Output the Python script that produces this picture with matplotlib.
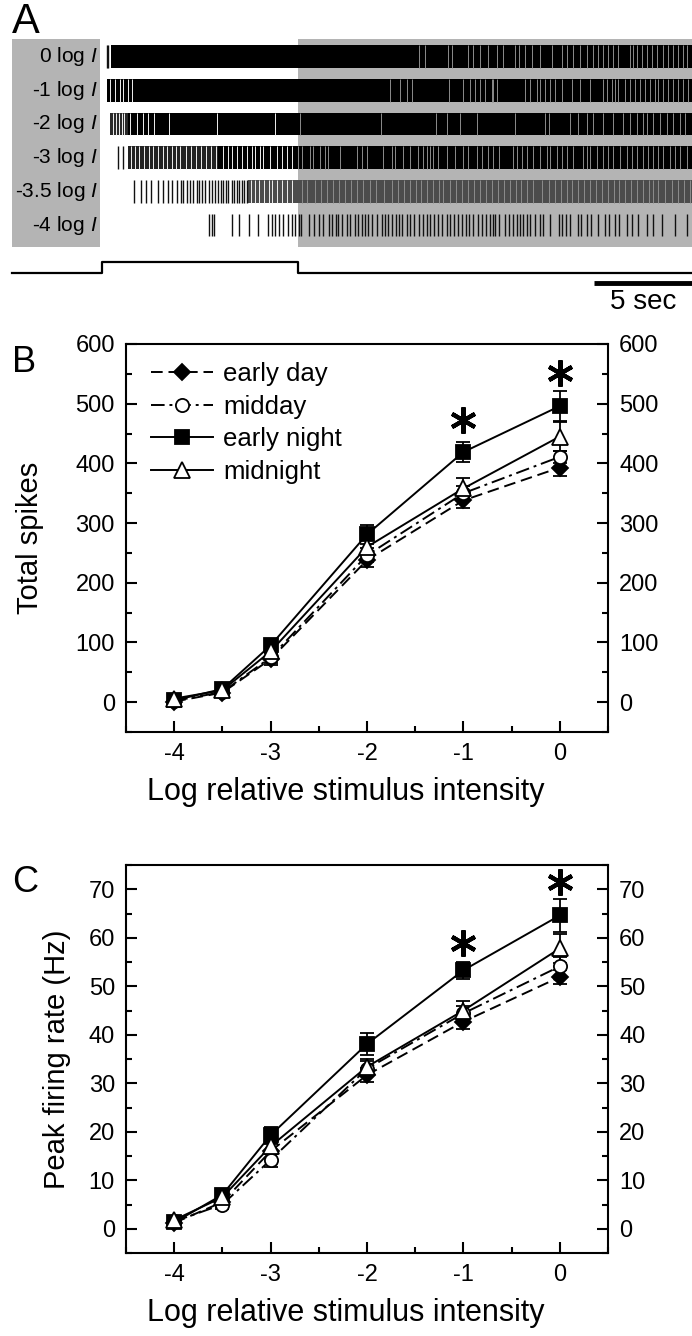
import matplotlib
matplotlib.use("Agg")
import matplotlib.pyplot as plt
from matplotlib.patches import Rectangle
from matplotlib.ticker import MultipleLocator

plt.rcParams['font.family'] = ['Liberation Sans', 'DejaVu Sans']
plt.rcParams['mathtext.fontset'] = 'custom'
plt.rcParams['mathtext.it'] = 'Liberation Sans:italic'
plt.rcParams['mathtext.rm'] = 'Liberation Sans'
plt.rcParams['axes.unicode_minus'] = False

# ---------------- Panel A data (seconds) ----------------
row_labels = ['0 log $I$', '-1 log $I$', '-2 log $I$', '-3 log $I$', '-3.5 log $I$', '-4 log $I$']
stim_on, stim_off = 0.0, 10.0
t_end = 30.1
scale_bar_sec = 5

# solid (dense black) spans per row
row0_solid = [(0.45, t_end)]
row1_solid = [(0.24, t_end)]
row2_solid = [(1.34, t_end)]
row3_solid = [(5.94, t_end)]
row4_solid = []
row5_solid = []
# dense but resolvable (grey) spans
row0_grey = []
row1_grey = []
row2_grey = [(0.41, 1.34)]
row3_grey = [(1.34, 5.94)]
row4_grey = [(7.45, t_end)]
row5_grey = []
# isolated spikes
row0_spikes = [0.24, 0.32]
row1_spikes = []
row2_spikes = []
row3_spikes = [0.83, 1.09]
row4_spikes = [1.65, 1.99, 2.23, 2.5, 2.87, 3.13, 3.35, 3.55, 3.81, 4.03, 4.15, 4.32, 4.49,
               4.66, 4.83, 4.97, 5.12, 5.26, 5.48, 5.63, 5.77, 5.9, 6.07, 6.19, 6.33, 6.45,
               6.62, 6.75, 6.87, 6.99, 7.13, 7.26, 7.38]
row5_spikes = [5.47, 5.6, 5.71, 6.62, 7.0, 7.52, 7.97, 8.45, 8.66, 8.83, 9.05, 9.26, 9.48,
               9.68, 9.85, 10.05, 10.16, 10.56, 10.84, 11.07, 11.3, 11.58, 11.75, 11.92,
               12.06, 12.26, 12.49, 12.66, 12.91, 13.08, 13.25, 13.42, 13.59, 13.76, 14.02,
               14.27, 14.44, 14.61, 14.82, 14.99, 15.16, 15.33, 15.55, 15.72, 15.94, 16.18,
               16.4, 16.57, 16.74, 16.96, 17.16, 17.37, 17.59, 17.76, 17.98, 18.18, 18.39,
               18.56, 18.73, 18.95, 19.17, 19.37, 19.58, 19.8, 19.97, 20.06, 20.28, 20.57,
               20.74, 20.99, 21.16, 21.33, 21.5, 21.67, 21.84, 22.1, 22.35, 22.52, 22.86,
               23.29, 23.46, 23.68, 23.88, 24.26, 24.43, 24.73, 24.94, 25.28, 25.67, 25.87,
               26.18, 26.38, 26.77, 27.03, 27.37, 27.79, 28.13, 28.56, 29.24, 29.83]
# silent gaps inside dense firing
row0_gaps = [16.18, 16.48, 17.67, 17.84, 18.69, 18.95, 19.29, 19.71, 20.17, 20.48, 21.08,
             21.25, 21.59, 21.93, 22.35, 22.95, 23.46, 23.71, 24.05, 24.39, 24.73, 25.07,
             25.33, 25.58, 25.84, 26.09, 26.35, 26.94, 27.11, 27.28, 27.54, 27.79, 28.05,
             28.3, 28.64, 28.9, 29.15, 29.41, 29.66, 29.83]
row1_gaps = [0.41, 0.66, 0.92, 1.09, 1.34, 1.55, 14.7, 15.21, 15.55, 15.8, 17.71, 18.44,
             18.78, 19.03, 19.29, 19.54, 19.88, 19.97, 20.14, 21.59, 21.84, 22.18, 22.35,
             22.61, 22.86, 23.12, 23.46, 23.97, 24.39, 24.9, 25.58, 25.75, 26.01, 26.18,
             26.35, 26.69, 26.94, 27.2, 27.45, 27.71, 27.96, 28.22, 28.39, 28.64, 28.9,
             29.15, 29.41, 29.66, 29.92]
row2_gaps = [0.55, 0.7, 0.85, 1.0, 1.15, 1.43, 1.77, 2.11, 2.36, 2.67, 3.42, 5.85, 8.83,
             10.11, 14.24, 17.03, 17.59, 18.27, 19.12, 21.08, 22.61, 22.78, 23.88, 24.31,
             24.73, 25.07, 25.58, 26.09, 26.6, 26.94, 27.28, 27.62, 27.79, 28.13, 28.47,
             28.81, 29.15, 29.49, 29.75]
row3_gaps = [1.5, 1.7, 1.9, 2.15, 2.4, 2.6, 2.85, 3.1, 3.3, 3.55, 3.8, 4.0, 4.3, 4.55, 4.8,
             5.05, 5.3, 5.55, 5.8,
             6.19, 6.41, 6.62, 6.87, 7.13, 7.38, 7.64, 7.81, 8.06, 8.23, 8.57, 8.91, 9.17,
             9.42, 9.68, 10.02, 10.19, 10.62, 10.79, 11.13, 11.38, 11.55, 12.15, 13.0, 13.25,
             13.51, 14.36, 14.78, 14.95, 15.38, 15.72, 16.14, 16.4, 16.57, 16.74, 16.91,
             17.16, 17.59, 18.01, 18.44, 18.69, 19.12, 19.37, 19.71, 19.97, 20.23, 20.99,
             21.16, 21.42, 21.67, 22.01, 22.35, 22.69, 22.86, 23.2, 23.46, 23.71, 24.05,
             24.56, 24.73, 24.9, 25.24, 25.58, 25.84, 26.09, 26.43, 26.77, 27.03, 27.28,
             27.62, 27.88, 28.13, 28.39, 28.64, 28.98, 29.24, 29.49, 29.83]
row4_gaps = [7.6, 7.8, 8.0, 8.25, 8.5, 8.7, 8.95, 9.2, 9.45, 9.7, 10.2, 10.45, 10.87, 11.2,
             11.5, 11.8, 12.1, 12.4, 12.7, 13.0, 13.3, 13.68, 14.0, 14.4, 14.78, 15.1, 15.4,
             15.7, 16.0, 16.3, 16.6, 16.9, 17.2, 17.42, 17.76, 18.05, 18.35, 18.69, 19.0,
             19.3, 19.6, 19.9, 20.2, 20.5, 20.8, 21.1, 21.4, 21.7, 22.0, 22.44, 22.8, 23.1,
             23.4, 23.7, 24.0, 24.3, 24.6, 24.9, 25.2, 25.5, 25.8, 26.1, 26.4, 26.7, 27.0,
             27.3, 27.6, 27.9, 28.1, 28.39, 28.7, 29.07, 29.4, 29.7, 30.0]
row5_gaps = []

rows_solid = [row0_solid, row1_solid, row2_solid, row3_solid, row4_solid, row5_solid]
rows_grey = [row0_grey, row1_grey, row2_grey, row3_grey, row4_grey, row5_grey]
rows_spikes = [row0_spikes, row1_spikes, row2_spikes, row3_spikes, row4_spikes, row5_spikes]
rows_gaps = [row0_gaps, row1_gaps, row2_gaps, row3_gaps, row4_gaps, row5_gaps]

# ---------------- Panels B and C data ----------------
intensity = [-4, -3.5, -3, -2, -1, 0]
series_names = ['early day', 'midday', 'early night', 'midnight']

spikes_early_day = [1, 16, 72, 238, 338, 393]
spikes_midday = [2, 17, 75, 246, 350, 411]
spikes_early_night = [3, 22, 95, 281, 419, 496]
spikes_midnight = [6, 20, 85, 260, 358, 445]
spikes_err_early_day = [4, 6, 10, 12, 12, 14]
spikes_err_midday = [4, 6, 10, 12, 12, 10]
spikes_err_early_night = [4, 6, 10, 16, 17, 25]
spikes_err_midnight = [4, 6, 10, 12, 17, 25]

peak_early_day = [1.2, 5.5, 16.0, 31.7, 42.7, 51.9]
peak_midday = [1.5, 5.0, 14.2, 33.0, 44.4, 54.1]
peak_early_night = [1.3, 7.0, 19.3, 38.1, 53.3, 64.6]
peak_midnight = [1.8, 6.5, 17.0, 33.4, 45.0, 57.8]
peak_err_early_day = [0.8, 1.0, 1.5, 1.5, 1.5, 1.5]
peak_err_midday = [0.8, 1.0, 1.5, 1.5, 1.5, 2.0]
peak_err_early_night = [0.8, 1.0, 1.7, 2.3, 1.8, 3.4]
peak_err_midnight = [0.8, 1.0, 1.5, 1.5, 2.0, 3.0]

sig_x = [-1, 0]
sig_spikes_y = [472, 551]
sig_peak_y = [59, 71.5]

# ---------------- Figure ----------------
W, H = 692, 1336
fig = plt.figure(figsize=(W / 100, H / 100), dpi=100)
GREY = '#b4b4b4'

# Panel A
axA = fig.add_axes([0, 1 - 320 / H, 1, 320 / H])
axA.set_xlim(-5.2, t_end)
axA.set_ylim(7.82, -1.68)
axA.axis('off')
box_top, box_h = -0.51, 6.17
axA.add_patch(Rectangle((-4.59, box_top), 4.49, box_h, color=GREY, lw=0, zorder=0))
axA.add_patch(Rectangle((stim_off, box_top), t_end - stim_off + 1, box_h, color=GREY, lw=0, zorder=0))
rh = 0.68
grey_cols = ['#3c3c3c', '#3c3c3c', '#2a2a2a', '#222222', '#4c4c4c', '#4c4c4c']
for i in range(6):
    y0 = i - rh / 2
    if rows_grey[i]:
        axA.broken_barh([(a, b - a) for a, b in rows_grey[i]], (y0, rh), color=grey_cols[i], lw=0, zorder=2)
    if rows_solid[i]:
        axA.broken_barh([(a, b - a) for a, b in rows_solid[i]], (y0, rh), color='black', lw=0, zorder=2)
    if rows_spikes[i]:
        axA.vlines(rows_spikes[i], y0, y0 + rh, color='#111111', lw=1.0, zorder=3)
    if rows_gaps[i]:
        cols = ['#f0f0f0' if t < stim_off else '#8c8c8c' for t in rows_gaps[i]]
        axA.vlines(rows_gaps[i], y0, y0 + rh, colors=cols, lw=0.7, zorder=4)
    axA.text(-0.2, i, row_labels[i], ha='right', va='center', fontsize=15, zorder=5)

base, high = 6.42, 6.09
axA.plot([-4.59, stim_on, stim_on, stim_off, stim_off, t_end],
         [base, base, high, high, base, base], color='black', lw=1.6)
axA.plot([t_end - scale_bar_sec, t_end], [6.71, 6.71], color='black', lw=3.5, solid_capstyle='butt')
axA.text(t_end - scale_bar_sec / 2, 7.28, '%d sec' % scale_bar_sec, ha='center', va='center', fontsize=20)
fig.text(12 / W, 1 - 22 / H, 'A', fontsize=30, ha='left', va='center')

styles = {
    'early day': dict(ls=(0, (6, 3)), marker='D', mfc='black', ms=8),
    'midday': dict(ls=(0, (7, 2.5, 1.5, 2.5)), marker='o', mfc='white', ms=9.5),
    'early night': dict(ls='-', marker='s', mfc='black', ms=9.5),
    'midnight': dict(ls='-', marker='^', mfc='white', ms=11.5),
}


def panel(ax, ys, errs, sig_y, ylim, major, minor, ylabel, label_x):
    handles = []
    for name, y, e in zip(series_names, ys, errs):
        st = styles[name]
        ax.errorbar(intensity, y, yerr=e, fmt='none', ecolor='black', elinewidth=1.3,
                    capsize=5, capthick=1.3, zorder=3)
        h, = ax.plot(intensity, y, color='black', lw=1.4, ls=st['ls'], marker=st['marker'],
                     mfc=st['mfc'], mec='black', mew=1.3, ms=st['ms'], zorder=4, label=name)
        handles.append(h)
    ax.plot(sig_x, sig_y, ls='none', marker=(6, 2, 0), ms=19, mew=3, color='black')
    ax.set_xlim(-4.5, 0.5)
    ax.set_ylim(*ylim)
    ax.xaxis.set_major_locator(MultipleLocator(1))
    ax.xaxis.set_minor_locator(MultipleLocator(0.5))
    ax.yaxis.set_major_locator(MultipleLocator(major))
    ax.yaxis.set_minor_locator(MultipleLocator(minor))
    ax.tick_params(which='both', direction='in', left=True, right=True, top=False,
                   labelleft=True, labelright=True, labelsize=17, width=1.5)
    ax.tick_params(which='major', length=8, pad=8)
    ax.tick_params(which='minor', length=4)
    for s in ax.spines.values():
        s.set_linewidth(1.5)
    ax.set_xlabel('Log relative stimulus intensity', fontsize=22, labelpad=12)
    ax.xaxis.set_label_coords(0.455, -0.115)
    ax.set_ylabel(ylabel, fontsize=21)
    ax.yaxis.set_label_coords(label_x, 0.5)
    return handles


axB = fig.add_axes([126 / W, 1 - 732 / H, 482 / W, 388 / H])
hs = panel(axB, [spikes_early_day, spikes_midday, spikes_early_night, spikes_midnight],
           [spikes_err_early_day, spikes_err_midday, spikes_err_early_night, spikes_err_midnight],
           sig_spikes_y, (-50, 600), 100, 50, 'Total spikes', -0.17)
axB.legend(handles=hs, loc='upper left', frameon=False, fontsize=18.5, handlelength=2.4,
           handletextpad=0.4, labelspacing=0.34, borderaxespad=0.3, bbox_to_anchor=(0.015, 1.0))
fig.text(12 / W, 1 - 362 / H, 'B', fontsize=26, ha='left', va='center')

axC = fig.add_axes([126 / W, 1 - 1253 / H, 482 / W, 388 / H])
panel(axC, [peak_early_day, peak_midday, peak_early_night, peak_midnight],
      [peak_err_early_day, peak_err_midday, peak_err_early_night, peak_err_midnight],
      sig_peak_y, (-5, 75), 10, 5, 'Peak firing rate (Hz)', -0.115)
fig.text(12 / W, 1 - 882 / H, 'C', fontsize=26, ha='left', va='center')

fig.savefig('out.png', dpi=100)
